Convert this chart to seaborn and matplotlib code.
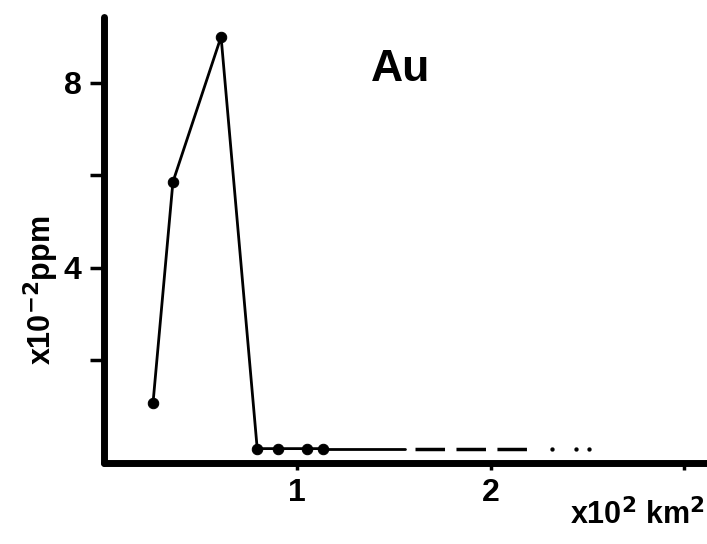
import matplotlib
matplotlib.use("Agg")
import matplotlib.pyplot as plt
import seaborn as sns
import pandas as pd

# === Data ===
area = [0.254, 0.357, 0.606, 0.793, 0.90, 1.05, 1.135]   # x10^2 km^2
gold = [1.08, 5.86, 9.0, 0.09, 0.09, 0.09, 0.09]          # x10^-2 ppm

tail_solid_x = [1.135, 1.56]
tail_dash_x = [1.61, 2.19]
tail_dots_x = [2.32, 2.44, 2.51]
tail_level = 0.09

y_ticks = [2, 4, 6, 8]
y_ticklabels = ["", "4", "", "8"]
x_ticks = [1, 2, 3]
x_ticklabels = ["1", "2", ""]

df = pd.DataFrame({"area": area, "gold": gold})

# === Style ===
sns.set_style("ticks")
plt.rcParams["font.family"] = ["Liberation Sans", "DejaVu Sans"]
plt.rcParams["text.color"] = "black"
plt.rcParams["axes.labelcolor"] = "black"
plt.rcParams["axes.edgecolor"] = "black"
plt.rcParams["xtick.color"] = "black"
plt.rcParams["ytick.color"] = "black"

fig = plt.figure(figsize=(7.07, 5.44), dpi=100)
ax = fig.add_axes([0.147, 0.149, 0.853, 0.82])

# === Plot ===
sns.lineplot(data=df, x="area", y="gold", ax=ax, color="black",
             linewidth=2, marker="o", markersize=7.5, markeredgecolor="black")
ax.plot(tail_solid_x, [tail_level] * 2, color="black", linewidth=2)
ax.plot(tail_dash_x, [tail_level] * 2, color="black", linewidth=2.5,
        linestyle=(0, (8.5, 3.3)))
sns.scatterplot(x=tail_dots_x, y=[tail_level] * 3, ax=ax, color="black",
                s=8, edgecolor="black")

# === Axes ===
ax.set_xlim(0, 3.12)
ax.set_ylim(-0.22, 9.43)
sns.despine(ax=ax)
for side in ["left", "bottom"]:
    ax.spines[side].set_linewidth(5)
    ax.spines[side].set_capstyle("round")

ax.set_yticks(y_ticks)
ax.set_yticklabels(y_ticklabels)
ax.set_xticks(x_ticks)
ax.set_xticklabels(x_ticklabels)
ax.tick_params(axis="y", length=10, width=2.5, pad=6, labelsize=23)
ax.tick_params(axis="x", length=5, width=2.5, pad=6, labelsize=23)
for lab in ax.get_xticklabels() + ax.get_yticklabels():
    lab.set_fontweight("bold")

ax.set_xlabel("")
ax.set_ylabel(r"x10$^{\mathbf{-2}}$ppm", fontsize=22, fontweight="bold")
ax.yaxis.set_label_coords(-0.072, 0.386)

ax.text(0.4925, 0.881, "Au", transform=ax.transAxes, fontsize=32,
        fontweight="bold", ha="center", va="center")
fig.text(0.997, 0.053, r"x10$^{\mathbf{2}}$ km$^{\mathbf{2}}$", fontsize=22,
         fontweight="bold", ha="right", va="center")

fig.savefig("out.png", dpi=100)
